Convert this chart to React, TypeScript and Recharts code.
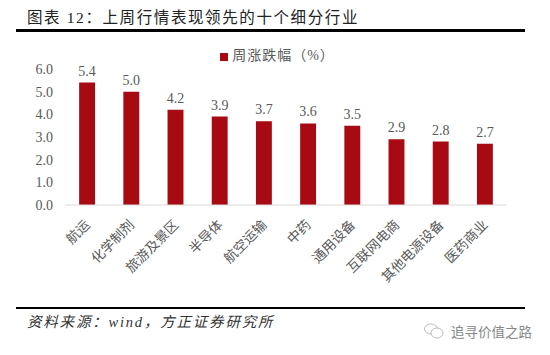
import React from "react";
import { BarChart, Bar, XAxis, YAxis, Legend, LabelList } from "recharts";

const categories = ["航运", "化学制剂", "旅游及景区", "半导体", "航空运输", "中药", "通用设备", "互联网电商", "其他电源设备", "医药商业"];
const values = [5.4, 5.0, 4.2, 3.9, 3.7, 3.6, 3.5, 2.9, 2.8, 2.7];
const yTicks = [0, 1, 2, 3, 4, 5, 6];
const seriesName = "周涨跌幅（%）";
const titleText = "图表 12：上周行情表现领先的十个细分行业";
const sourceText = "资料来源：wind，方正证券研究所";
const watermarkText = "追寻价值之路";

const data = categories.map((name, i) => ({ name, value: values[i] }));
const serif = "'Liberation Serif','Noto Sans CJK SC',serif";

export default function App() {
  return (
    <div style={{ position: "absolute", left: 0, top: 0, width: 550, height: 355, background: "#fff", overflow: "hidden" }}>
      <BarChart width={550} height={355} data={data} margin={{ top: 49, right: 43, bottom: 50, left: 25 }} barCategoryGap="68%">
        <XAxis
          dataKey="name"
          interval={0}
          angle={-45}
          textAnchor="end"
          height={100}
          tickLine={false}
          tickMargin={8}
          dx={-3}
          axisLine={{ stroke: "#d9d9d9", strokeWidth: 1 }}
          tick={{ fontSize: 13.5, fill: "#595959", fontFamily: serif }}
        />
        <YAxis
          width={40}
          domain={[0, 6]}
          ticks={yTicks}
          tickFormatter={(v: number) => v.toFixed(1)}
          axisLine={false}
          tickLine={false}
          tickMargin={6}
          tick={{ fontSize: 14, fill: "#595959", fontFamily: serif }}
        />
        <Legend
          verticalAlign="top"
          align="center"
          iconType="square"
          iconSize={8}
          height={20}
          wrapperStyle={{ position: "absolute", top: 44, left: 220, width: 125, fontSize: 14, letterSpacing: 1, fontFamily: serif, color: "#595959" }}
          formatter={(v: string) => <span style={{ color: "#595959" }}>{v}</span>}
        />
        <Bar dataKey="value" name={seriesName} fill="#a80a14" isAnimationActive={false}>
          <LabelList
            dataKey="value"
            position="top"
            offset={7}
            formatter={(v: number) => v.toFixed(1)}
            style={{ fontSize: 14, fill: "#595959", fontFamily: serif }}
          />
        </Bar>
      </BarChart>
      <div style={{ position: "absolute", left: 27, top: 8, fontSize: 15.5, letterSpacing: 1.6, color: "#222", fontFamily: serif, whiteSpace: "nowrap", lineHeight: "20px" }}>{titleText}</div>
      <div style={{ position: "absolute", left: 16, top: 29, width: 509, height: 3, background: "#000" }} />
      <div style={{ position: "absolute", left: 16, top: 307, width: 509, height: 2, background: "#000" }} />
      <div style={{ position: "absolute", left: 27, top: 312, fontSize: 14.5, letterSpacing: 1.8, fontStyle: "italic", color: "#333", fontFamily: serif, whiteSpace: "nowrap", lineHeight: "20px" }}>{sourceText}</div>
      <svg style={{ position: "absolute", left: 423, top: 322 }} width={22} height={18} viewBox="0 0 22 18">
        <ellipse cx={8} cy={7} rx={6.5} ry={5} fill="none" stroke="#bbb" strokeWidth={1} />
        <ellipse cx={14} cy={11} rx={6} ry={5} fill="#fff" stroke="#bbb" strokeWidth={1} />
      </svg>
      <div style={{ position: "absolute", left: 451, top: 322, fontSize: 13.5, color: "#888", fontFamily: "'Noto Sans CJK SC',sans-serif", whiteSpace: "nowrap", lineHeight: "18px" }}>{watermarkText}</div>
    </div>
  );
}
